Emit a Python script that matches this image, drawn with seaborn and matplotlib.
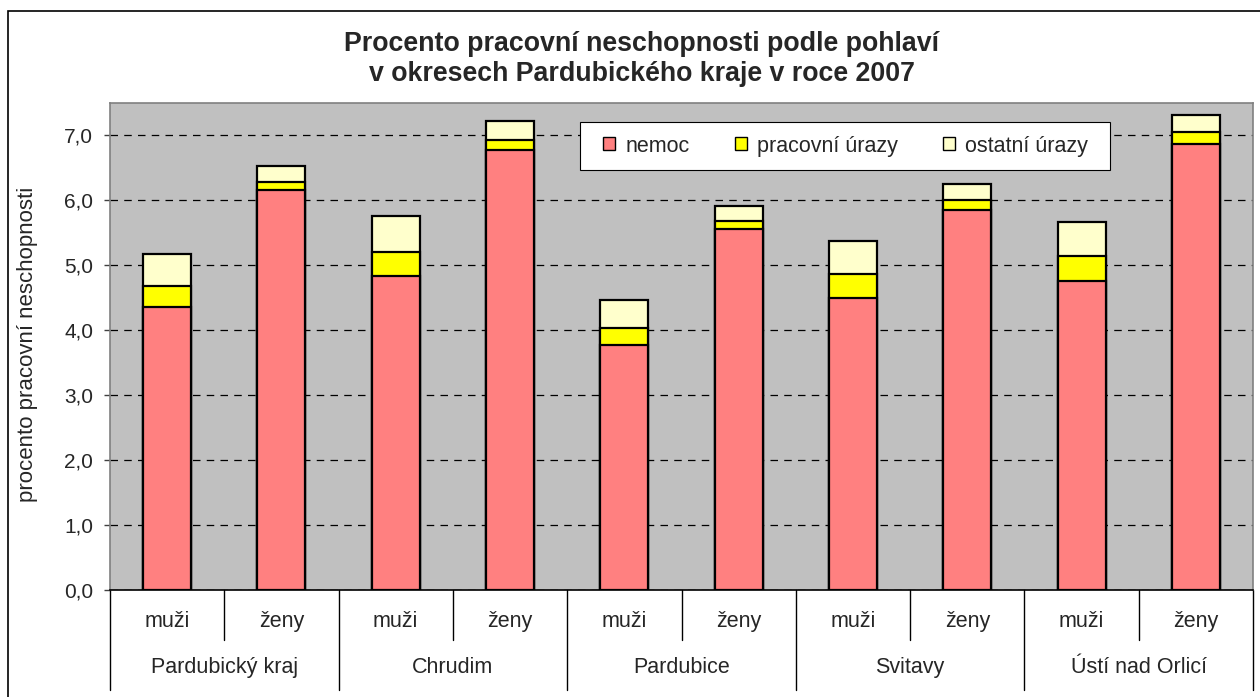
import matplotlib.pyplot as plt
import matplotlib.transforms as mtransforms
from matplotlib.patches import Patch, Rectangle
from matplotlib.ticker import FuncFormatter
import seaborn as sns
import pandas as pd

# ---- data ----
okresy = ["Pardubický kraj", "Chrudim", "Pardubice", "Svitavy", "Ústí nad Orlicí"]
pohlavi = ["muži", "ženy"]
nemoc = [4.36, 6.16, 4.83, 6.77, 3.77, 5.56, 4.49, 5.85, 4.76, 6.87]
pracovni_urazy = [0.32, 0.13, 0.37, 0.16, 0.26, 0.13, 0.37, 0.15, 0.38, 0.18]
ostatni_urazy = [0.49, 0.24, 0.56, 0.29, 0.43, 0.22, 0.52, 0.25, 0.52, 0.26]
legenda = ["nemoc", "pracovní úrazy", "ostatní úrazy"]
barvy = ["#FF8080", "#FFFF00", "#FFFFCC"]

sns.set_style("white")
plt.rcParams["font.family"] = ["Liberation Sans", "DejaVu Sans"]

sloupce = [f"{o}|{p}" for o in okresy for p in pohlavi]
df = pd.DataFrame({"sloupec": sloupce, "nemoc": nemoc,
                   "pracovni": pracovni_urazy, "ostatni": ostatni_urazy})
df["do_pracovnich"] = df["nemoc"] + df["pracovni"]
df["celkem"] = df["do_pracovnich"] + df["ostatni"]

W, H = 1260, 697
fig = plt.figure(figsize=(W / 100, H / 100), dpi=100)
ax = fig.add_axes([110 / W, 1 - 590 / H, 1143 / W, 487 / H])
ax.set_facecolor("#C0C0C0")
ax.set_axisbelow(True)

# stacked bars: draw cumulative totals from the top down
for col, barva in [("celkem", barvy[2]), ("do_pracovnich", barvy[1]), ("nemoc", barvy[0])]:
    sns.barplot(data=df, x="sloupec", y=col, order=sloupce, color=barva,
                width=0.42, edgecolor="black", linewidth=1.6, saturation=1,
                errorbar=None, ax=ax)

ax.set_xlim(-0.5, 9.5)
ax.set_ylim(0, 7.5)
ax.set_yticks(range(0, 8))
ax.yaxis.set_major_formatter(FuncFormatter(lambda v, p: f"{v:.1f}".replace(".", ",")))
ax.yaxis.grid(True, color="black", linestyle=(0, (6, 5)), linewidth=0.9)
ax.xaxis.grid(False)
ax.set_xticks([])
ax.set_xlabel("")
ax.tick_params(axis="y", labelsize=15, length=4.5, width=1, color="#404040",
               left=True, pad=7.5)
ax.set_ylabel("procento pracovní neschopnosti", fontsize=16)
ax.yaxis.set_label_coords(-0.063, 0.505)

for s in ["top", "right", "left"]:
    ax.spines[s].set_color("#808080")
    ax.spines[s].set_linewidth(1.2)
ax.spines["bottom"].set_color("black")
ax.spines["bottom"].set_linewidth(1.2)

# two-level category axis
tr = mtransforms.blended_transform_factory(ax.transData, ax.transAxes)
for k in range(11):
    x = -0.5 + k
    y_end = -0.205 if k % 2 == 0 else -0.103
    ax.plot([x, x], [0, y_end], color="black", linewidth=1, transform=tr, clip_on=False)
for i, o in enumerate(okresy):
    for j, p in enumerate(pohlavi):
        ax.text(2 * i + j, -0.064, p, transform=tr, ha="center", va="center", fontsize=15.5)
    ax.text(2 * i + 0.5, -0.160, o, transform=tr, ha="center", va="center", fontsize=15.5)

# legend: white box with the entries laid inside it
ax.add_patch(Rectangle((0.4112, 0.8614), 0.4637, 0.0996, transform=ax.transAxes,
                       facecolor="white", edgecolor="black", linewidth=0.8, zorder=4))
handles = [Patch(facecolor=c, edgecolor="black", linewidth=1) for c in barvy]
leg = ax.legend(handles, legenda, ncol=3, loc="center left", bbox_to_anchor=(0.4313, 0.9117),
                borderaxespad=0, borderpad=0, fontsize=15.5, frameon=False,
                handlelength=0.56, handleheight=0.56,
                handletextpad=0.47, columnspacing=2.1)
leg.set_zorder(5)

fig.text(642 / W, 1 - 59 / H,
         "Procento pracovní neschopnosti podle pohlaví\nv okresech Pardubického kraje v roce 2007",
         ha="center", va="center", fontsize=19.3, fontweight="bold", linespacing=1.22)

fig.add_artist(Rectangle((8 / W, -0.05), 1.1, 1.05 - 11 / H, transform=fig.transFigure,
                         fill=False, edgecolor="black", linewidth=1.2))

fig.savefig("out.png", dpi=100)
